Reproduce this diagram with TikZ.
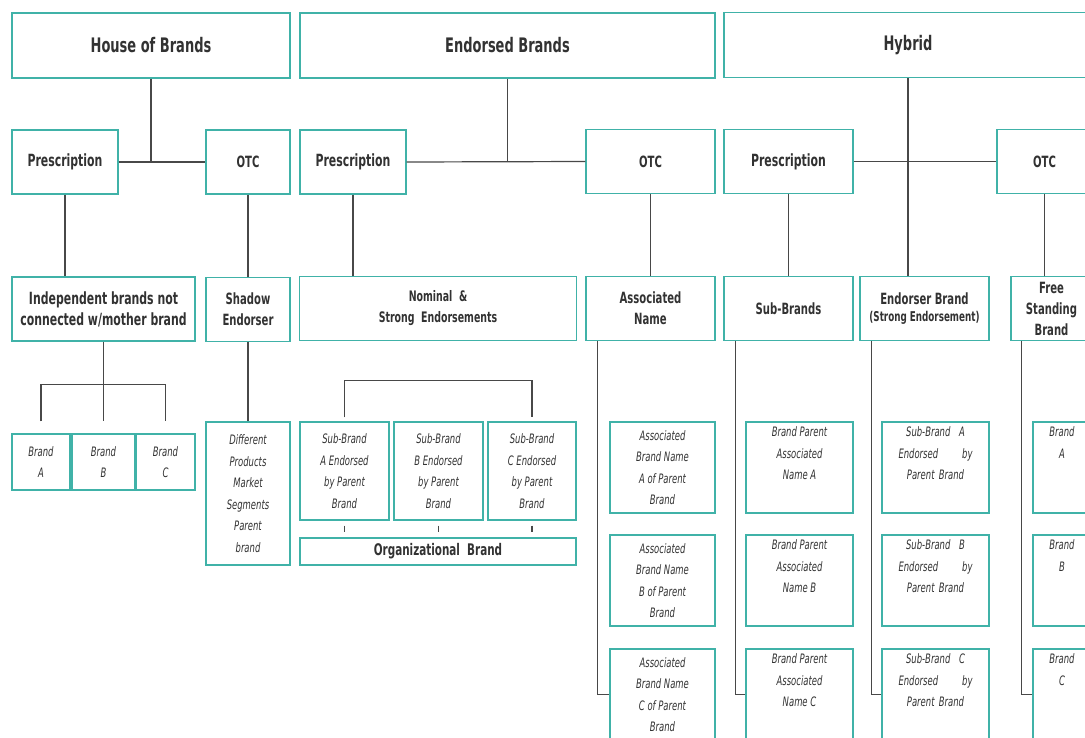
\documentclass[tikz,border=0pt]{standalone}
\usepackage{fontspec}
\setmainfont{DejaVu Sans}[FakeStretch=0.65]
\usepackage{xcolor}
\usetikzlibrary{calc}
\definecolor{boxline}{RGB}{64,178,168}
\definecolor{linkgray}{RGB}{72,72,72}
\definecolor{textgray}{RGB}{50,50,50}

\begin{document}
\begin{tikzpicture}[
  x=1pt, y=-1pt,
  box/.style={draw=boxline, line width=1.3pt, align=center, inner sep=2pt, text=textgray},
  head/.style={box, font=\fontsize{20}{22}\selectfont\bfseries, minimum height=65pt},
  cat/.style={box, font=\fontsize{15.5}{21}\selectfont\bfseries, minimum height=64pt},
  bigcat/.style={cat, font=\fontsize{16.8}{21}\selectfont\bfseries},
  leaf/.style={box, font=\fontsize{13}{21.5}\selectfont\itshape, minimum height=91pt},
  justleaf/.style={leaf, text width=74pt},
  link/.style={draw=linkgray, line width=1.2pt},
]
\useasboundingbox (0,0) rectangle (1085,737);
\clip (0,0) rectangle (1085,737);
% ---------------- top row ----------------
\node[head, minimum width=278pt] (hob) at (151,45.5) {House of Brands};
\node[head, minimum width=415pt] (eb) at (507.5,45.5) {Endorsed Brands};
\node[head, minimum width=368pt] (hyb) at (908,45) {Hybrid};
% ---------------- prescription / otc ----------------
\node[bigcat, minimum width=106pt] (hrx) at (65,162) {Prescription};
\node[cat, minimum width=84pt] (hotc) at (248,162) {OTC};
\node[bigcat, minimum width=106pt] (erx) at (353,162) {Prescription};
\node[cat, minimum width=129pt] (eotc) at (650.5,161.5) {OTC};
\node[bigcat, minimum width=129pt] (hyrx) at (788.5,161.5) {Prescription};
\node[cat, minimum width=95pt] (hyotc) at (1044.5,161.5) {OTC};
% ---------------- third row ----------------
\node[bigcat, minimum width=183pt] (indep) at (103.5,309) {Independent brands not\\connected w/mother brand};
\node[cat, minimum width=84pt] (shadow) at (248,309.5) {Shadow\\Endorser};
\node[cat, minimum width=277pt, font=\fontsize{14.5}{21}\selectfont\bfseries] (nom) at (438,308.5) {Nominal \ \&\\Strong \ Endorsements};
\node[cat, minimum width=129pt] (assoc) at (650.5,308.5) {Associated\\Name};
\node[cat, minimum width=129pt] (subb) at (788.5,308.5) {Sub-Brands};
\node[cat, minimum width=129pt] (hend) at (924.5,308.5) {Endorser Brand\\[-4pt]{\fontsize{13.5}{14}\selectfont(Strong Endorsement)}};
\node[cat, minimum width=81pt] (free) at (1051.5,308.5) {Free\\Standing\\Brand};
% ---------------- house of brands leaves ----------------
\node[leaf, minimum width=58pt, minimum height=56pt] (bA) at (41,462) {Brand\\A};
\node[leaf, minimum width=63pt, minimum height=56pt] (bB) at (103.5,462) {Brand\\B};
\node[leaf, minimum width=59pt, minimum height=56pt] (bC) at (165.5,462) {Brand\\C};
\node[leaf, minimum width=84pt, minimum height=143pt] (sdiff) at (248,493.5) {Different\\Products\\Market\\Segments\\Parent\\brand};
% ---------------- endorsed brands leaves ----------------
\node[leaf, minimum width=89pt, minimum height=98pt] (sbA) at (344.5,471) {Sub-Brand\\A Endorsed\\by Parent\\Brand};
\node[leaf, minimum width=89pt, minimum height=98pt] (sbB) at (438.5,471) {Sub-Brand\\B Endorsed\\by Parent\\Brand};
\node[leaf, minimum width=88pt, minimum height=98pt] (sbC) at (532,471) {Sub-Brand\\C Endorsed\\by Parent\\Brand};
\node[cat, minimum width=276pt, minimum height=27pt, font=\fontsize{16}{17}\selectfont\bfseries] (org) at (438,551.5) {Organizational \ Brand};
\node[leaf, minimum width=105pt] (asA) at (662.5,467.5) {Associated\\Brand Name\\A of Parent\\Brand};
\node[leaf, minimum width=105pt] (asB) at (662.5,580.5) {Associated\\Brand Name\\B of Parent\\Brand};
\node[leaf, minimum width=105pt] (asC) at (662.5,694.5) {Associated\\Brand Name\\C of Parent\\Brand};
% ---------------- hybrid leaves ----------------
\node[leaf, minimum width=107pt] (bpA) at (799.5,467.5) {Brand Parent\\Associated\\Name A\\\strut};
\node[leaf, minimum width=107pt] (bpB) at (799.5,580.5) {Brand Parent\\Associated\\Name B\\\strut};
\node[leaf, minimum width=107pt] (bpC) at (799.5,694.5) {Brand Parent\\Associated\\Name C\\\strut};
\node[justleaf, minimum width=107pt] (ebA) at (935.5,467.5) {Sub-Brand \ A\\Endorsed\hfill by\\Parent Brand\\\strut};
\node[justleaf, minimum width=107pt] (ebB) at (935.5,580.5) {Sub-Brand \ B\\Endorsed\hfill by\\Parent Brand\\\strut};
\node[justleaf, minimum width=107pt] (ebC) at (935.5,694.5) {Sub-Brand \ C\\Endorsed\hfill by\\Parent Brand\\\strut};
\node[leaf, minimum width=58pt] (fbA) at (1062,467.5) {Brand\\A\\\strut\\\strut};
\node[leaf, minimum width=58pt] (fbB) at (1062,580.5) {Brand\\B\\\strut\\\strut};
\node[leaf, minimum width=58pt] (fbC) at (1062,694.5) {Brand\\C\\\strut\\\strut};
% ---------------- connectors: house of brands ----------------
\draw[link] (hob.south) -- (hob.south |- hrx.east);
\draw[link] (hrx.east) -- (hotc.west);
\draw[link] (hrx.south) -- (hrx.south |- indep.north);
\draw[link] (hotc.south) -- (shadow.north);
\draw[link] (indep.south) -- ([yshift=12pt]bB.north);
\draw[link] ([yshift=12pt]bA.north) |- ([yshift=49pt]bB.north) -| ([yshift=12pt]bC.north);
\draw[link] (shadow.south) -- (sdiff.north);
% ---------------- connectors: endorsed brands ----------------
\draw[link] (eb.south) -- (eb.south |- erx.east);
\draw[link] (erx.east) -- (eotc.west);
\draw[link] (erx.south) -- (erx.south |- nom.north);
\draw[link] (eotc.south) -- (assoc.north);
\draw[link] ([yshift=4pt]sbA.north) |- ([yshift=41pt]sbB.north) -| ([yshift=4pt]sbC.north);
\draw[link] ([yshift=-5pt]sbA.south) -- ([yshift=5pt]org.north -| sbA.south);
\draw[link] ([yshift=-5pt]sbB.south) -- ([yshift=5pt]org.north -| sbB.south);
\draw[link] ([yshift=-5pt]sbC.south) -- ([yshift=5pt]org.north -| sbC.south);
\draw[link] ([xshift=12pt]assoc.south west) |- (asC.west);
% ---------------- connectors: hybrid ----------------
\draw[link] (hyb.south) -- (hyb.south |- hend.north);
\draw[link] (hyrx.east) -- (hyotc.west);
\draw[link] (hyrx.south) -- (subb.north);
\draw[link] (hyotc.south) -- (hyotc.south |- free.north);
\draw[link] ([xshift=12pt]subb.south west) |- (bpC.west);
\draw[link] ([xshift=12pt]hend.south west) |- (ebC.west);
\draw[link] ([xshift=11pt]free.south west) |- (fbC.west);
\end{tikzpicture}
\end{document}
